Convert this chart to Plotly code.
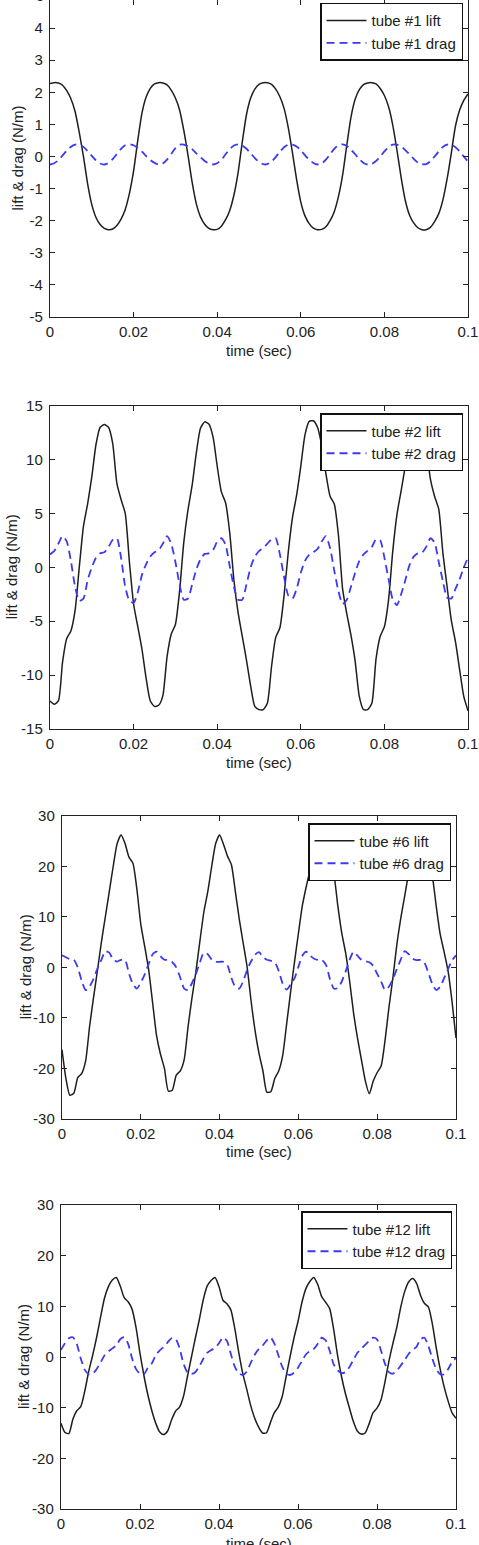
import plotly.graph_objects as go

W, H = 479, 1545

# time grid (ms -> s)
T_MS = list(range(0, 101))
TIME = [m / 1000.0 for m in T_MS]

TUBE1_LIFT = [
    2.27, 2.30, 2.29, 2.22, 2.05, 1.80, 1.40, 0.75, 0.00, -0.85, -1.50, -1.90, -2.12, -2.24, -2.28, -2.26, -2.15, -1.95, -1.65, -1.15, -0.45, 0.50, 1.35, 1.85, 2.12,
    2.26, 2.30, 2.29, 2.23, 2.07, 1.82, 1.45, 0.82, 0.05, -0.80, -1.47, -1.88, -2.11, -2.24, -2.28, -2.27, -2.17, -1.97, -1.68, -1.20, -0.50, 0.45, 1.30, 1.82, 2.10,
    2.25, 2.30, 2.30, 2.25, 2.10, 1.86, 1.50, 0.90, 0.12, -0.72, -1.42, -1.85, -2.09, -2.23, -2.28, -2.27, -2.19, -2.00, -1.72, -1.25, -0.58, 0.35, 1.22, 1.78, 2.08,
    2.24, 2.29, 2.30, 2.26, 2.12, 1.90, 1.55, 0.98, 0.20, -0.65, -1.37, -1.82, -2.07, -2.22, -2.28, -2.28, -2.21, -2.03, -1.78, -1.35, -0.70, 0.10, 0.95, 1.45, 1.75,
    1.95,
]
TUBE1_DRAG = [
    -0.25, -0.21, -0.12, 0.03, 0.18, 0.30, 0.37, 0.37, 0.30, 0.17, 0.02, -0.12, -0.22, -0.25, -0.20, -0.08, 0.08, 0.24, 0.35, 0.38,
    0.35, 0.26, 0.15, 0.01, -0.11, -0.20, -0.25, -0.22, -0.10, 0.08, 0.26, 0.37, 0.37, 0.32, 0.23, 0.10, -0.02, -0.14, -0.22, -0.25,
    -0.21, -0.10, 0.07, 0.23, 0.34, 0.38, 0.34, 0.24, 0.10, -0.05, -0.17, -0.24, -0.24, -0.16, -0.02, 0.15, 0.29, 0.37, 0.37, 0.31,
    0.19, 0.04, -0.10, -0.20, -0.25, -0.22, -0.10, 0.07, 0.24, 0.35, 0.38, 0.33, 0.21, 0.07, -0.08, -0.20, -0.25, -0.23, -0.14, 0.00,
    0.16, 0.29, 0.37, 0.37, 0.32, 0.20, 0.07, -0.07, -0.19, -0.24, -0.24, -0.15, 0.00, 0.16, 0.30, 0.37, 0.37, 0.29, 0.16, 0.00,
    -0.16,
]

TUBE2_LIFT = [
    -12.4, -12.7, -12.4, -8.8, -6.6, -5.9, -4.0, 0.0, 3.8, 5.9, 8.4, 11.4, 13.0, 13.25, 13.0, 11.5, 7.8, 6.3, 5.0, 0.5,
    -3.4, -5.5, -7.6, -10.3, -12.4, -12.9, -12.8, -11.9, -8.3, -6.2, -5.3, -2.2, 2.3, 5.3, 7.6, 10.6, 12.9, 13.5, 13.3, 12.1,
    9.4, 7.0, 6.0, 3.2, -1.2, -4.2, -6.4, -8.6, -11.0, -12.9, -13.2, -13.2, -12.6, -9.2, -6.5, -5.6, -2.6, 1.4, 4.6, 6.7,
    9.4, 12.3, 13.55, 13.6, 13.0, 11.3, 8.7, 6.6, 5.9, 3.0, -2.0, -4.3, -6.3, -8.7, -12.0, -13.2, -13.2, -12.6, -8.5, -6.4,
    -5.5, -3.0, 1.5, 4.9, 7.1, 9.4, 11.8, 13.3, 13.6, 13.1, 11.3, 8.2, 6.6, 5.4, 1.3, -1.8, -4.9, -6.9, -9.5, -12.0,
    -13.3,
]
TUBE2_DRAG = [
    1.2, 1.5, 2.2, 2.9, 2.4, 0.6, -1.8, -3.1, -2.9, -1.2, 0.0, 0.9, 1.3, 1.4, 1.9, 2.55, 2.7, 0.9, -1.8, -3.1,
    -3.3, -2.3, -0.7, 0.3, 1.0, 1.4, 1.6, 2.2, 2.9, 2.2, 0.5, -1.6, -3.0, -2.9, -1.6, -0.2, 0.75, 1.25, 1.3, 1.6,
    2.4, 2.7, 2.1, 0.1, -1.8, -3.0, -3.0, -1.6, 0.0, 1.0, 1.5, 1.8, 2.2, 2.6, 2.7, 1.2, -0.9, -2.6, -2.9, -2.0,
    -0.5, 0.6, 1.15, 1.4, 1.7, 2.4, 2.9, 1.8, -0.3, -2.2, -3.4, -3.0, -1.8, -0.5, 0.6, 1.2, 1.55, 1.9, 2.6, 2.5,
    0.9, -1.1, -3.0, -3.5, -2.5, -1.2, 0.2, 1.0, 1.3, 1.35, 1.9, 2.7, 2.3, 0.5, -1.3, -2.8, -2.9, -2.0, -1.1, 0.0,
    0.9,
]

TUBE6_LIFT = [
    -16.3, -22.0, -25.3, -24.9, -21.8, -21.0, -18.5, -11.7, -6.0, -0.6, 5.0, 10.0, 15.0, 20.0, 24.5, 26.2, 24.5, 21.8, 20.6, 15.5,
    8.5, 4.1, -0.5, -7.0, -13.5, -17.2, -20.0, -24.5, -24.3, -21.3, -20.5, -18.3, -11.7, -6.0, -0.8, 5.2, 10.9, 15.0, 20.0, 24.5,
    26.2, 24.3, 22.0, 20.3, 15.0, 9.5, 4.75, 0.0, -6.7, -12.5, -17.0, -20.5, -24.7, -24.6, -22.0, -20.5, -17.5, -11.3, -5.0, 1.0,
    6.7, 12.2, 16.0, 19.5, 24.0, 26.0, 24.3, 22.0, 21.0, 18.5, 12.2, 6.8, 2.8, -2.7, -9.0, -14.0, -18.3, -22.5, -25.0, -22.5,
    -20.8, -19.5, -14.4, -7.8, -2.0, 4.6, 9.8, 14.2, 18.8, 23.5, 26.0, 24.5, 22.2, 21.0, 18.0, 12.0, 6.5, 3.0, -0.8, -6.8,
    -14.0,
]
TUBE6_DRAG = [
    2.4, 2.0, 1.6, 1.5, 0.0, -2.7, -4.5, -3.8, -2.3, -0.2, 1.5, 3.2, 2.9, 1.5, 1.15, 1.5, 1.5, -1.2, -3.3, -4.2,
    -3.0, -1.4, 0.7, 2.6, 3.1, 2.2, 1.5, 1.45, 1.0, 0.0, -2.0, -4.2, -4.5, -3.1, -1.3, 1.0, 2.9, 2.6, 1.5, 1.1,
    1.1, 1.1, 0.4, -2.1, -3.9, -4.2, -2.7, -0.5, 1.2, 2.5, 3.0, 2.0, 1.5, 1.3, 1.0, -0.7, -3.2, -4.4, -3.4, -2.2,
    0.1, 2.3, 3.1, 2.3, 1.7, 1.45, 1.45, 0.5, -2.3, -4.2, -4.1, -2.8, -0.8, 1.5, 3.1, 2.3, 1.5, 1.2, 1.0, 0.3,
    -1.3, -2.8, -4.5, -3.8, -2.3, -0.3, 1.6, 3.2, 2.6, 1.7, 1.45, 1.45, 0.9, -1.1, -3.3, -4.5, -3.8, -2.1, -0.3, 1.4,
    2.4,
]

TUBE12_LIFT = [
    -13.1, -14.9, -15.1, -12.3, -10.6, -9.8, -6.8, -2.9, 0.3, 3.8, 7.8, 11.6, 13.9, 15.2, 15.7, 14.0, 11.7, 10.9, 9.4, 5.8,
    0.7, -3.7, -7.5, -10.6, -13.1, -14.8, -15.3, -14.6, -12.4, -10.7, -9.9, -7.8, -3.9, -0.1, 3.7, 7.3, 11.25, 14.0, 15.1, 15.7,
    13.9, 11.2, 10.5, 9.3, 5.6, 0.9, -3.2, -6.3, -9.5, -12.0, -13.8, -15.0, -15.0, -13.0, -11.0, -9.9, -7.8, -3.8, 0.1, 3.8,
    7.0, 10.8, 13.5, 14.9, 15.7, 14.3, 11.9, 10.8, 9.6, 5.6, 0.4, -3.8, -7.2, -10.0, -12.7, -14.6, -15.2, -15.0, -13.2, -11.0,
    -10.1, -8.5, -5.0, -0.9, 2.6, 5.8, 9.8, 12.9, 14.8, 15.5, 14.6, 12.2, 10.6, 9.9, 6.6, 1.8, -2.4, -5.9, -8.7, -11.0,
    -12.1,
]
TUBE12_DRAG = [
    1.4, 2.7, 3.7, 3.9, 2.6, -0.3, -2.5, -3.4, -3.3, -2.4, -1.1, 0.3, 1.1, 1.7, 2.3, 3.5, 3.9, 2.6, -0.3, -2.4,
    -3.3, -3.4, -2.1, -1.25, 0.4, 1.3, 2.0, 2.9, 3.7, 3.6, 1.8, -1.3, -3.0, -3.35, -3.0, -1.9, -0.4, 0.8, 1.35, 1.8,
    2.7, 3.9, 3.2, 0.6, -1.9, -3.2, -3.55, -2.9, -1.2, 0.4, 1.5, 2.2, 3.2, 3.9, 2.7, 0.4, -1.9, -3.3, -3.55, -3.1,
    -2.1, -0.8, 0.5, 1.2, 1.6, 2.6, 3.8, 3.3, 1.3, -1.4, -2.6, -3.2, -3.0, -2.0, -0.6, 0.8, 1.6, 2.4, 3.2, 3.8,
    3.5, 1.3, -1.3, -3.0, -3.3, -2.7, -1.7, -0.6, 0.6, 1.4, 2.0, 3.5, 3.8, 2.2, -0.3, -2.4, -3.4, -3.4, -2.4, -1.0,
    -0.2,
]

X_TICKS = [0, 0.02, 0.04, 0.06, 0.08, 0.1]
X_TICK_TEXT = ["0", "0.02", "0.04", "0.06", "0.08", "0.1"]
Y_TICKS_1 = [-5, -4, -3, -2, -1, 0, 1, 2, 3, 4]
Y_TICKS_2 = [-15, -10, -5, 0, 5, 10, 15]
Y_TICKS_3 = [-30, -20, -10, 0, 10, 20, 30]

TUBES = ["#1", "#2", "#6", "#12"]
LIFTS = [TUBE1_LIFT, TUBE2_LIFT, TUBE6_LIFT, TUBE12_LIFT]
DRAGS = [TUBE1_DRAG, TUBE2_DRAG, TUBE6_DRAG, TUBE12_DRAG]
YTICKS = [Y_TICKS_1, Y_TICKS_2, Y_TICKS_3, Y_TICKS_3]

# layout geometry in pixels
PANELS = [
    dict(x=(50, 468), y=(0, 317), yr=(-5, 4.875), leg=(463, 2.7), ylx=17, xly=351),
    dict(x=(50, 468), y=(405.7, 729), yr=(-15, 15), leg=(463, 413), ylx=11, xly=762),
    dict(x=(62, 456), y=(815.7, 1119), yr=(-30, 30), leg=(451, 823), ylx=25, xly=1151),
    dict(x=(61, 456), y=(1205, 1509), yr=(-30, 30), leg=(452, 1211), ylx=23, xly=1543),
]

FONT = "Liberation Sans, Arial, Helvetica, sans-serif"
AX = "#222222"
LIFT_C = "#1e1e1e"
DRAG_C = "#3a3af2"

fig = go.Figure()
layout = dict(
    width=W, height=H, margin=dict(l=0, r=0, t=0, b=0),
    paper_bgcolor="white", plot_bgcolor="white", template="none",
    font=dict(family=FONT, size=15, color=AX), showlegend=True,
)
annotations = []

for i, (tube, lift, drag, yt, p) in enumerate(zip(TUBES, LIFTS, DRAGS, YTICKS, PANELS)):
    k = "" if i == 0 else str(i + 1)
    xa, ya = "x" + k, "y" + k
    leg = "legend" + k
    fig.add_trace(go.Scatter(x=TIME, y=lift, mode="lines", name=f"tube {tube} lift",
                             line=dict(color=LIFT_C, width=1.5, shape="spline", smoothing=0.6),
                             xaxis=xa, yaxis=ya, legend=leg))
    fig.add_trace(go.Scatter(x=TIME, y=drag, mode="lines", name=f"tube {tube} drag",
                             line=dict(color=DRAG_C, width=1.8, dash="8px,5px", shape="spline", smoothing=0.6),
                             xaxis=xa, yaxis=ya, legend=leg))
    x0, x1 = p["x"]
    y0, y1 = p["y"]
    common = dict(showgrid=False, zeroline=False, showline=True, linecolor=AX, linewidth=1.4,
                  mirror="ticks", ticks="inside", ticklen=5, tickcolor=AX, tickwidth=1,
                  tickfont=dict(family=FONT, size=15, color=AX), automargin=False)
    layout["xaxis" + k] = dict(domain=[x0 / W, x1 / W], anchor=ya, range=[0, 0.1],
                               tickvals=X_TICKS, ticktext=X_TICK_TEXT, ticklabelstandoff=1, **common)
    layout["yaxis" + k] = dict(domain=[1 - y1 / H, 1 - y0 / H], anchor=xa, range=list(p["yr"]),
                               tickvals=yt, ticktext=[str(v) for v in yt], ticklabelstandoff=3, **common)
    lx, ly = p["leg"]
    layout[leg] = dict(x=lx / W, y=1 - ly / H, xanchor="right", yanchor="top",
                       bgcolor="white", bordercolor="#111111", borderwidth=1.5,
                       font=dict(family=FONT, size=15, color=AX), itemwidth=40, tracegroupgap=0)
    annotations.append(dict(text="time (sec)", xref="paper", yref="paper",
                            x=(x0 + x1) / 2 / W, y=1 - p["xly"] / H, xanchor="center", yanchor="middle",
                            showarrow=False, font=dict(family=FONT, size=15, color=AX)))
    annotations.append(dict(text="lift & drag (N/m)", xref="paper", yref="paper", textangle=-90,
                            x=p["ylx"] / W, y=1 - (y0 + y1) / 2 / H, xanchor="center", yanchor="middle",
                            showarrow=False, font=dict(family=FONT, size=15, color=AX)))

# partially visible top tick label of the first panel
annotations.append(dict(text="5", xref="paper", yref="paper", x=46 / W, y=1 + 4.4 / H,
                        xanchor="right", yanchor="middle", showarrow=False,
                        font=dict(family=FONT, size=15, color=AX)))
layout["annotations"] = annotations
fig.update_layout(**layout)
fig.write_html("out.html")
